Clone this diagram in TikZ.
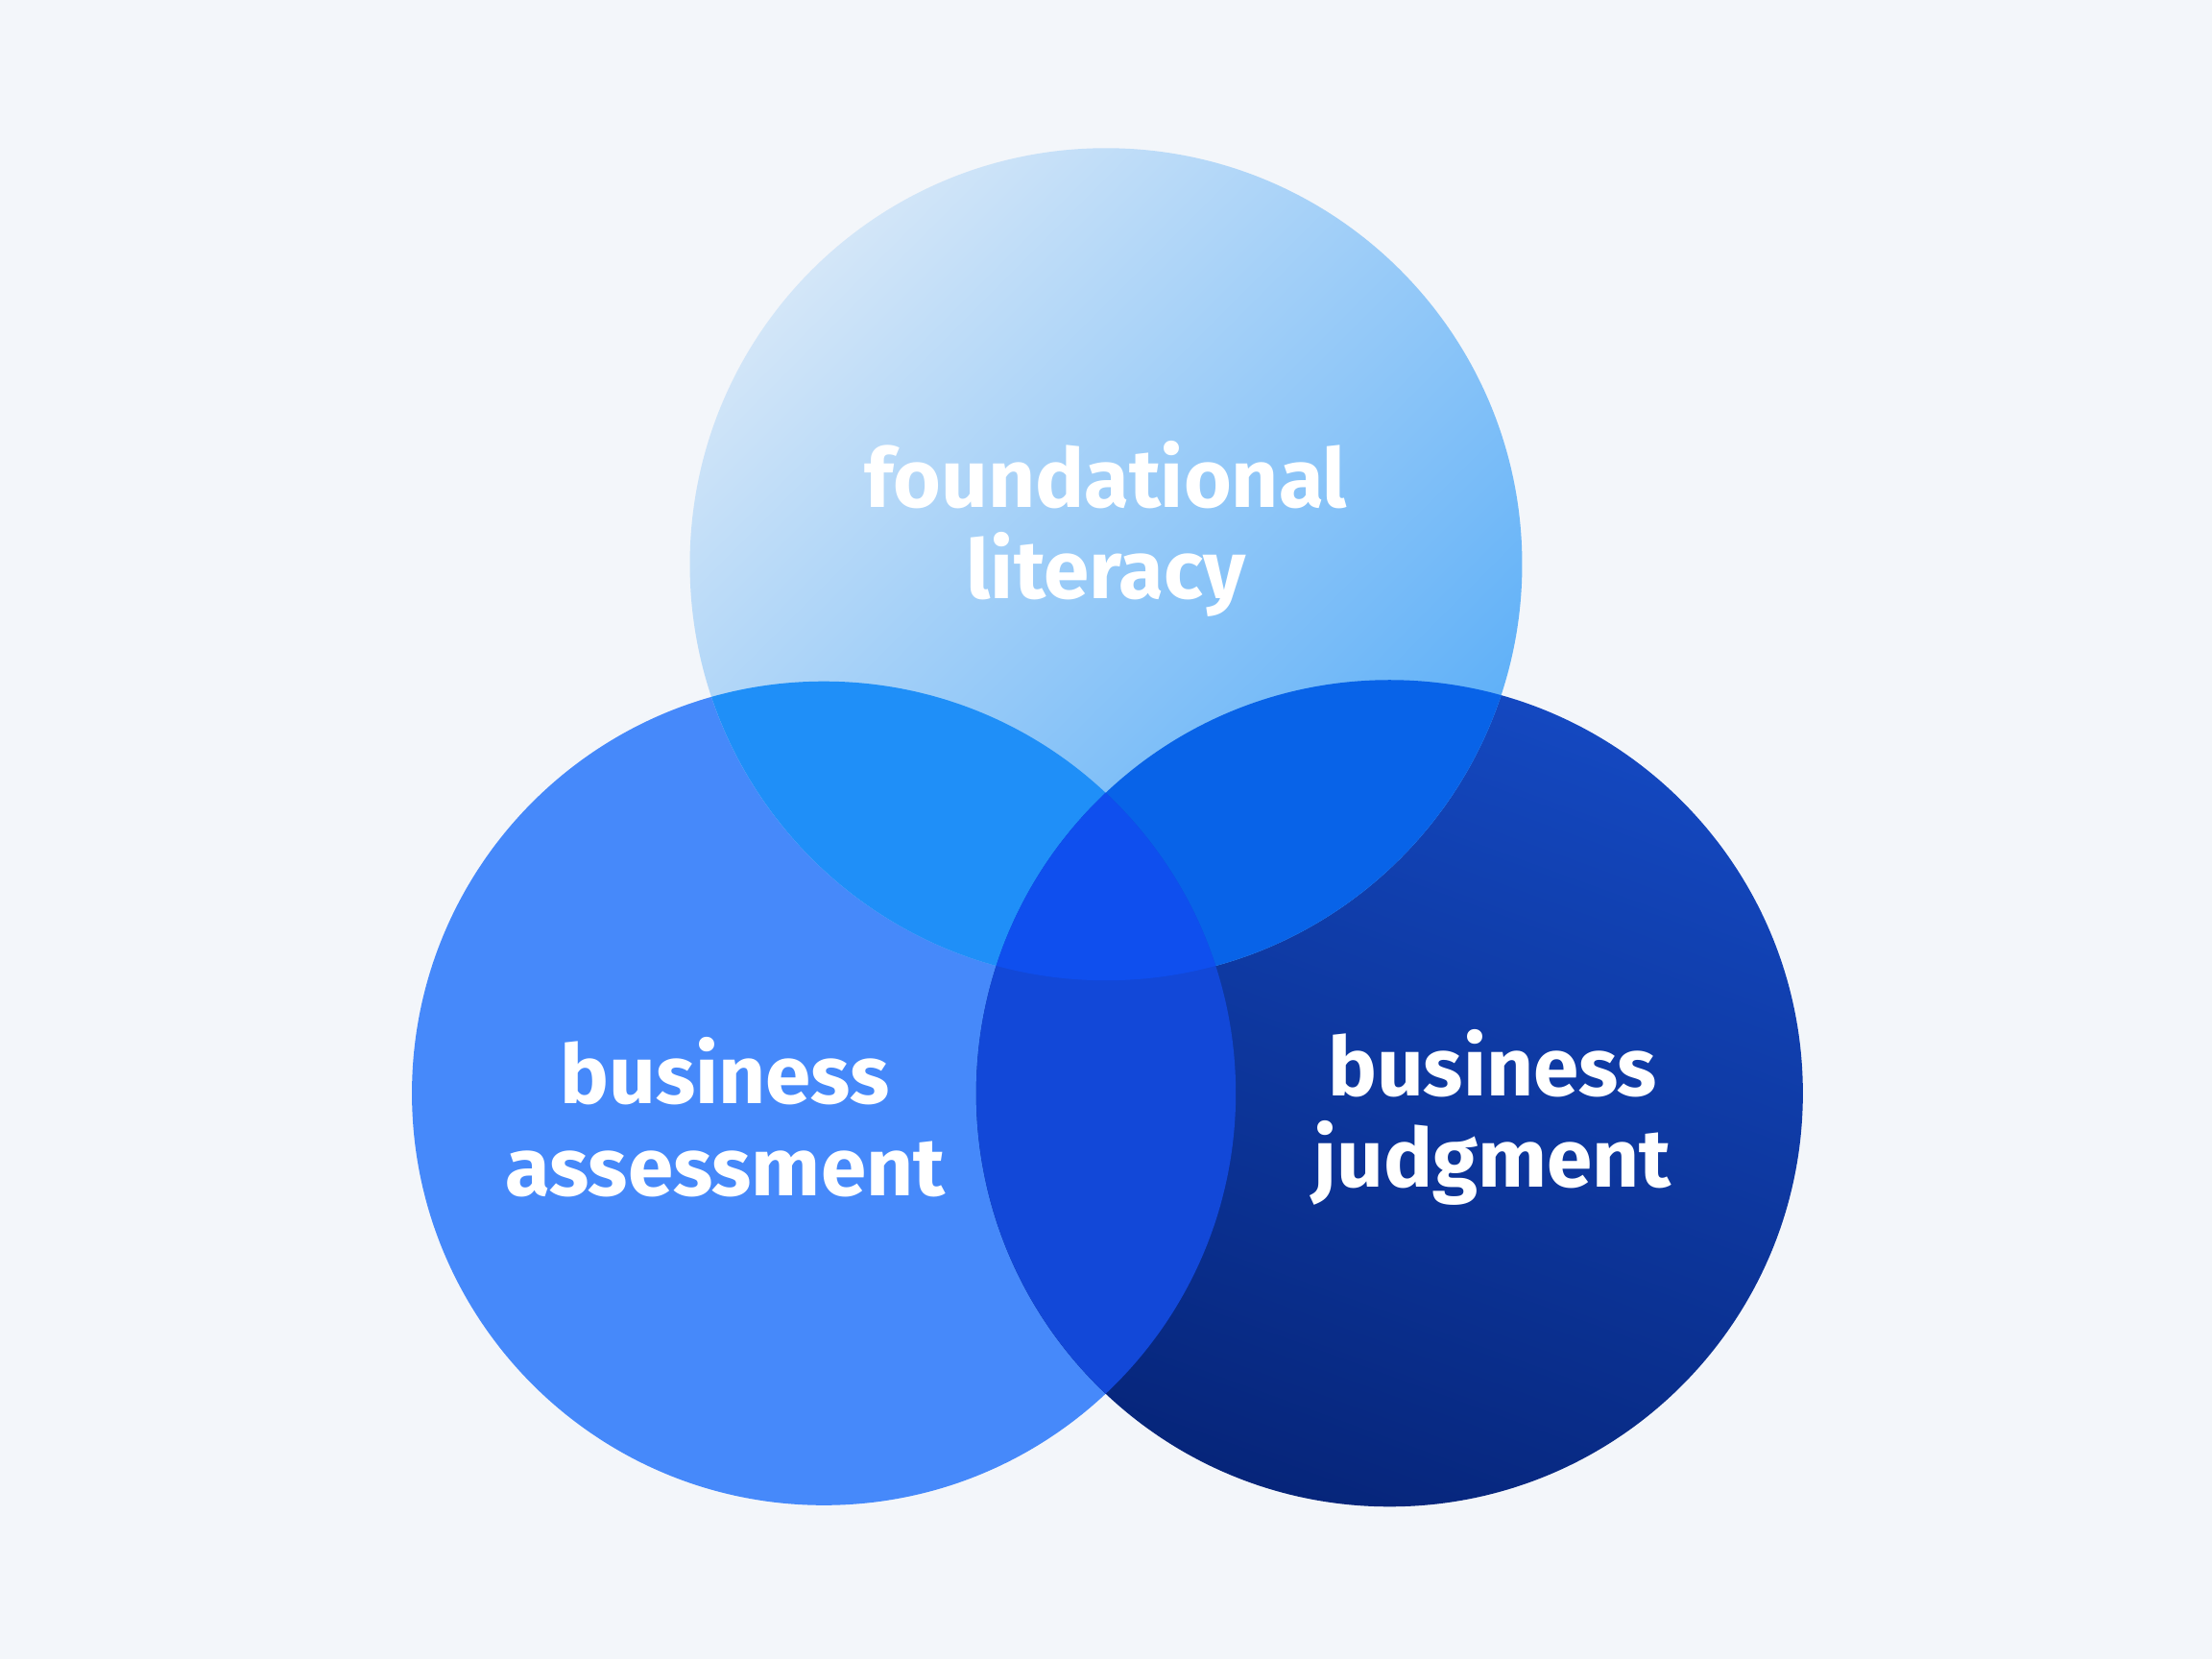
\documentclass[tikz,border=0pt]{standalone}
\usepackage{fontspec}
\setmainfont{Fira Sans}
\begin{document}
\begin{tikzpicture}[x=0.01cm,y=-0.01cm]
\definecolor{bg}{HTML}{F3F6FA}
\definecolor{topA}{HTML}{D3E6F8}
\definecolor{topB}{HTML}{5AAEF8}
\definecolor{leftC}{HTML}{4689FA}
\definecolor{rightA}{HTML}{1448C0}
\definecolor{rightB}{HTML}{06257A}
\definecolor{tl}{HTML}{1F8FF8}
\definecolor{tr}{HTML}{0863E8}
\definecolor{lr}{HTML}{1248D8}
\definecolor{ctr}{HTML}{0F4FEE}
\tikzset{lab/.style={text=white,font=\fontsize{16.5}{18.5}\selectfont\bfseries,align=center}}
\fill[bg] (0,0) rectangle (1568,1176);
\useasboundingbox (0,0) rectangle (1568,1176);
\coordinate (T) at (784,400);
\coordinate (L) at (584,775);
\coordinate (R) at (985,775);
\def\rT{295}\def\rL{292}\def\rR{293}
\fill[leftC] (L) circle (\rL);
\shade[top color=rightA,bottom color=rightB,shading angle=-20] (R) circle (\rR);
\shade[top color=topA,bottom color=topB,shading angle=45] (T) circle (\rT);
\begin{scope}\clip (T) circle (\rT); \fill[tl] (L) circle (\rL); \end{scope}
\begin{scope}\clip (T) circle (\rT); \fill[tr] (R) circle (\rR); \end{scope}
\begin{scope}\clip (L) circle (\rL); \fill[lr] (R) circle (\rR); \end{scope}
\begin{scope}\clip (L) circle (\rL); \clip (R) circle (\rR); \fill[ctr] (T) circle (\rT); \end{scope}
\node[lab] (tt) at (784,375) {foundational\\literacy};
\node[lab] (lt) at (514,792) {business\\assessment};
\node[lab] (rt) at (1058,792) {business\\judgment};
\end{tikzpicture}
\end{document}
